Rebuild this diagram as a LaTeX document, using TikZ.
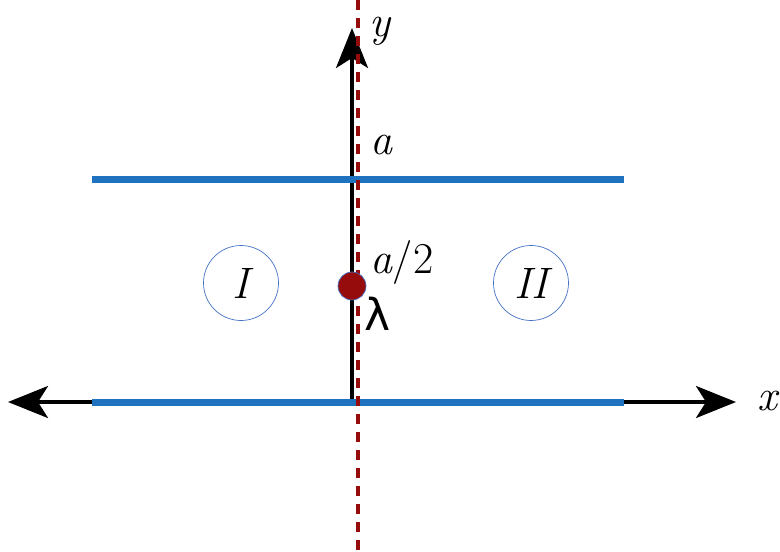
\documentclass[tikz,border=0pt]{standalone}
\usepackage{fontspec}
\newfontfamily\lamfont{DejaVu Sans}
\usetikzlibrary{arrows.meta}
\definecolor{plateblue}{RGB}{30,114,190}
\definecolor{darkred}{RGB}{150,12,12}
\definecolor{ringblue}{RGB}{68,114,196}
\tikzset{
  axis/.style={line width=3.5pt, black, -{Stealth[length=40pt,width=32pt,inset=10pt]}},
  plate/.style={line width=7pt, plateblue},
  region/.style={circle, draw=ringblue, line width=0.7pt, minimum size=75pt, inner sep=0pt, font=\fontsize{44}{50}\selectfont\itshape},
  lbl/.style={font=\fontsize{44}{50}\selectfont, inner sep=0pt},
}
\begin{document}
\begin{tikzpicture}[x=1pt,y=-1pt]
\useasboundingbox (0,0) rectangle (780,552);
\coordinate (o) at (352,402);
\coordinate (ytop) at (352,28);
\coordinate (xl) at (8,402);
\coordinate (xr) at (736,402);
\draw[axis] (o) -- (ytop);
\draw[axis] (o) -- (xl);
\draw[axis] (o) -- (xr);
\coordinate (p1l) at (92,179);
\coordinate (p1r) at (624,179);
\coordinate (p2l) at (92,402);
\coordinate (p2r) at (624,402);
\draw[plate] (p1l) -- (p1r);
\draw[plate] (p2l) -- (p2r);
\coordinate (rt) at (358,0);
\coordinate (rb) at (358,552);
\draw[darkred, line width=3.5pt, dash pattern=on 10pt off 8pt] (rt) -- (rb);
\node[circle, fill=darkred, draw=ringblue, line width=0.7pt, minimum size=28pt, inner sep=0pt] (dot) at (352,286) {};
\node[region] (I) at (241,283) {I};
\node[region] (II) at (531,283) {II};
\node[lbl] (ly) at (380,31) {\itshape y};
\node[lbl] (la) at (381,145) {\itshape a};
\node[lbl] (la2) at (402,262) {{\itshape a}/2};
\node[lbl] (lam) at (378,314) {\lamfont λ};
\node[lbl] (lx) at (767,401) {\itshape x};
\end{tikzpicture}
\end{document}
